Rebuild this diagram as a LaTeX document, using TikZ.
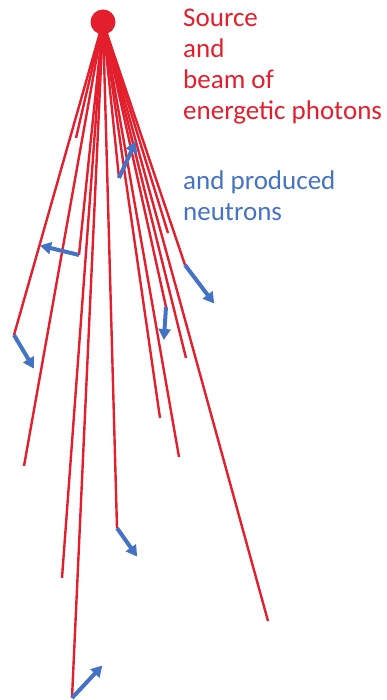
\documentclass[tikz,border=0pt]{standalone}
\usepackage{fontspec}
\setmainfont{Carlito}
\usetikzlibrary{arrows.meta}
\definecolor{beamred}{RGB}{227,30,45}
\definecolor{neutronblue}{RGB}{68,114,196}
\tikzset{
    photon/.style={draw=beamred, line width=2.4pt},
    neutron/.style={draw=neutronblue, line width=4pt,
        -{Triangle[length=11pt, width=12pt]}, shorten >=-2pt},
    source/.style={circle, fill=beamred, inner sep=0pt, minimum size=25pt},
    label/.style={align=left, anchor=base west, inner sep=0pt,
        font=\fontsize{27}{31}\selectfont}
}

\begin{document}
\begin{tikzpicture}[x=1pt, y=-1pt]
\useasboundingbox (0,0) rectangle (386,700);
\coordinate (src) at (103,22);
% end points of the photon tracks
\coordinate (p1) at (76,138);
\coordinate (p2) at (14,335);
\coordinate (p3) at (24,466);
\coordinate (p4) at (79,255);
\coordinate (p5) at (62,578);
\coordinate (p6) at (72,698);
\coordinate (p7) at (117,528);
\coordinate (p8) at (119,178);
\coordinate (p9) at (160,418);
\coordinate (p10) at (179,457);
\coordinate (p11) at (166,307);
\coordinate (p12) at (186,358);
\coordinate (p13) at (185,265);
\coordinate (p14) at (268,621);
\coordinate (p15) at (168,233);
\foreach \i in {1,...,15}
    \draw[photon] (src) -- (p\i);
\node[source] (dot) at (src) {};
% neutrons
\coordinate (n2) at (33,367);
\coordinate (n4) at (42,246);
\coordinate (n8) at (135,143);
\coordinate (n11) at (164,338);
\coordinate (n13) at (213,302);
\coordinate (n7) at (136,555);
\coordinate (n6) at (101,667);
\foreach \i in {2,4,8,11,13,7,6}
    \draw[neutron] (p\i) -- (n\i);
% baselines of the last lines
\node[label, text=beamred] (beam) at (183,120)
    {Source\\and\\beam of\\energetic photons};
\node[label, text=neutronblue] (prod) at (183,221)
    {and produced\\neutrons};
\end{tikzpicture}
\end{document}
